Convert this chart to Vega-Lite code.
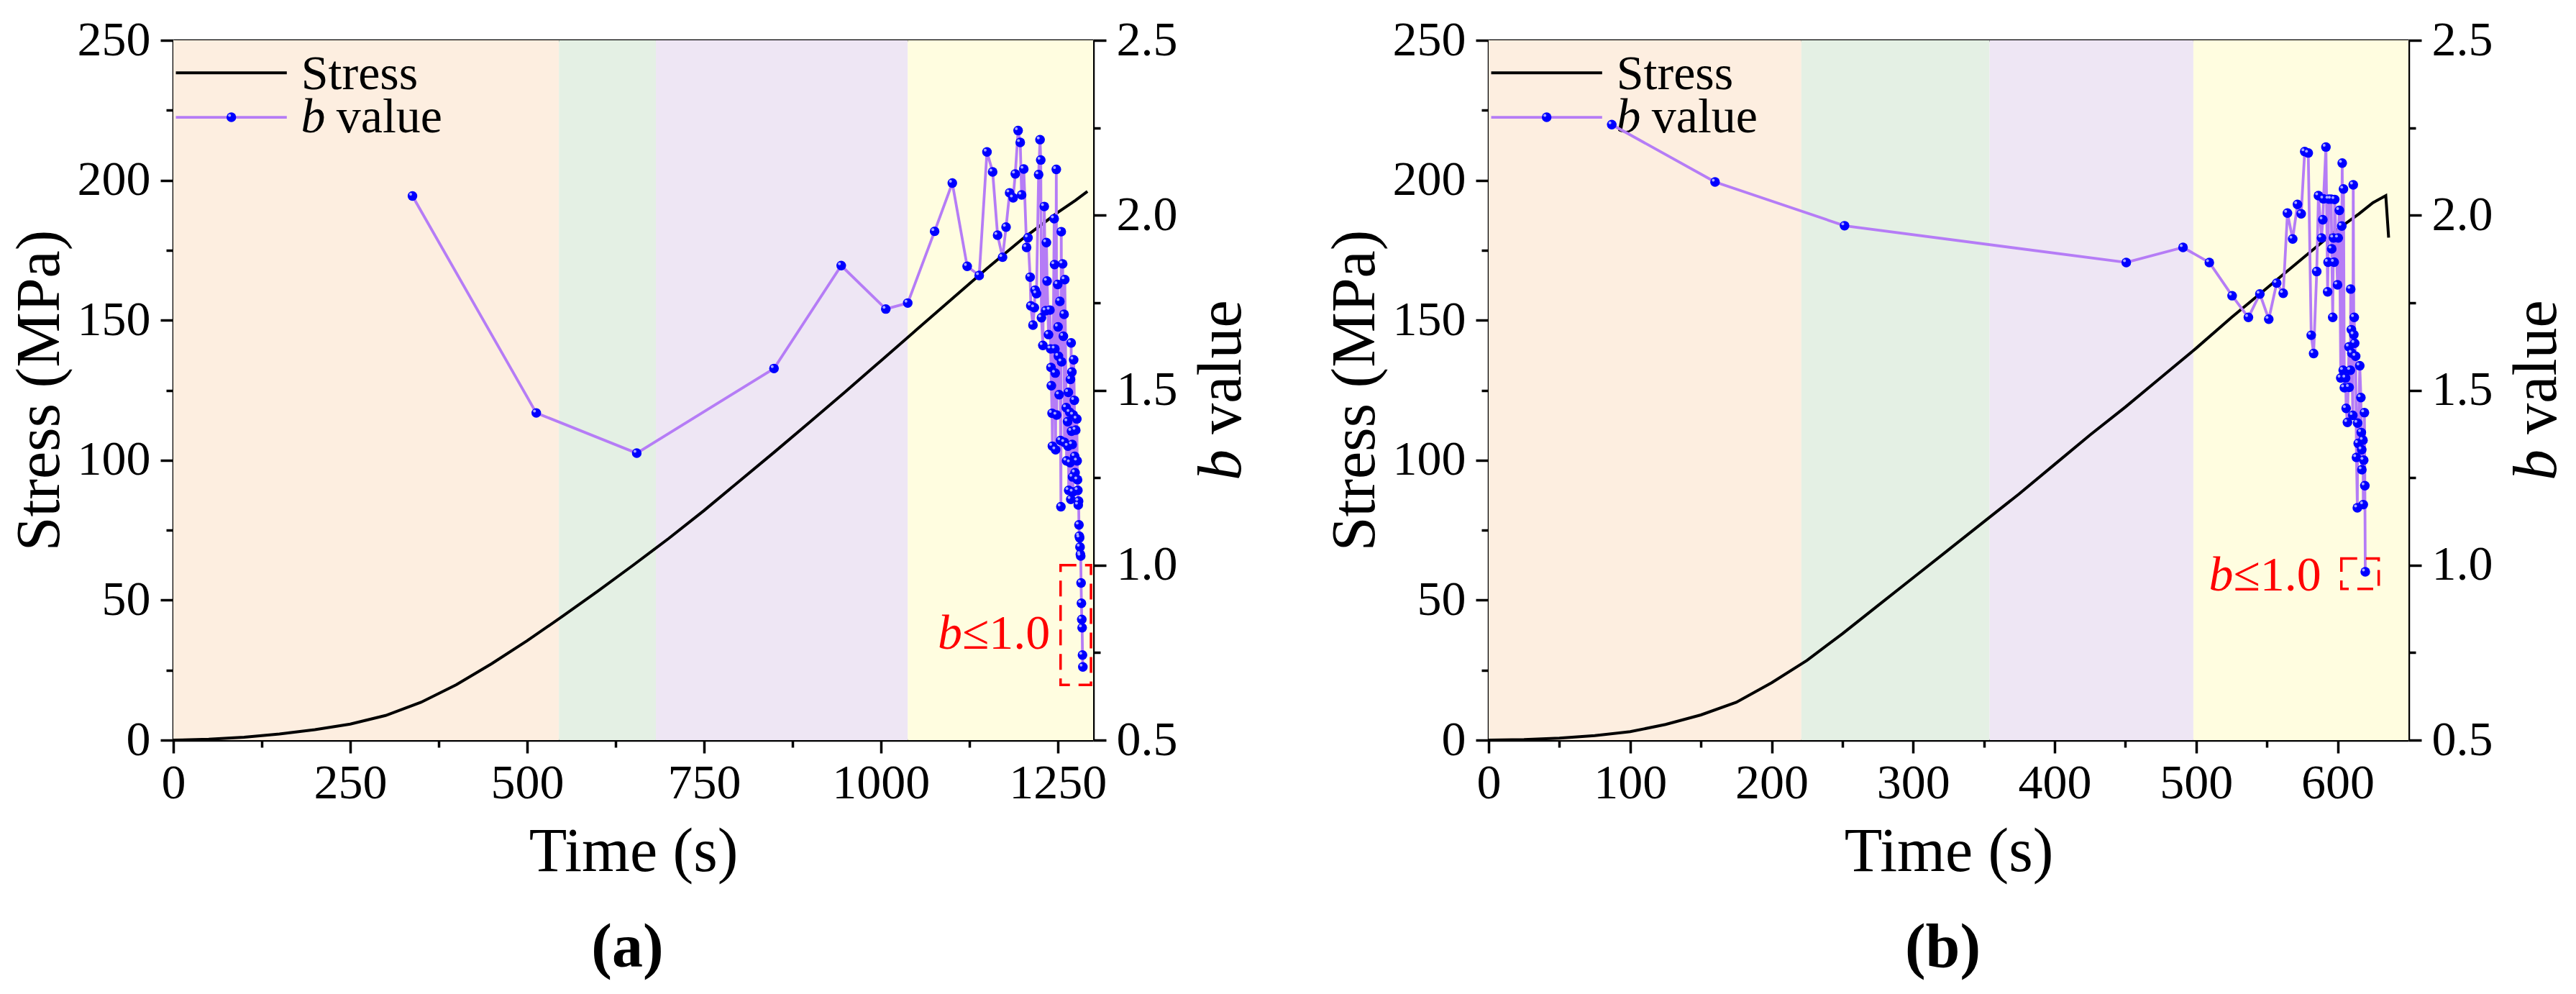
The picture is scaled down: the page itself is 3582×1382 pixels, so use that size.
{
  "$schema": "https://vega.github.io/schema/vega-lite/v6.json",
  "padding": {"left": 12, "top": 22, "right": 10, "bottom": 10},
  "background": "white",
  "spacing": 100,
  "config": {
    "font": "Liberation Serif",
    "view": {"stroke": null},
    "axis": {
      "labelFont": "Liberation Serif", "titleFont": "Liberation Serif",
      "labelFontSize": 68, "titleFontSize": 86, "titleFontWeight": "normal",
      "labelColor": "black", "titleColor": "black", "domainColor": "black", "tickColor": "black",
      "domainWidth": 3.5, "tickWidth": 3.5, "grid": false,
      "labelFlush": false, "labelOverlap": false, "labelBound": false, "zindex": 1
    }
  },
  "datasets": {
    "bands_a": [
      {"phase": "p1", "t": 0, "t2": 545},
      {"phase": "p2", "t": 545, "t2": 682},
      {"phase": "p3", "t": 682, "t2": 1038},
      {"phase": "p4", "t": 1038, "t2": 1300}
    ],
    "bands_b": [
      {"phase": "p1", "t": 0, "t2": 221},
      {"phase": "p2", "t": 221, "t2": 354},
      {"phase": "p3", "t": 354, "t2": 498},
      {"phase": "p4", "t": 498, "t2": 650}
    ],
    "stress_a": [
      {"t": 0, "stress": 0}, {"t": 50, "stress": 0.3}, {"t": 100, "stress": 1.0}, {"t": 150, "stress": 2.2},
      {"t": 200, "stress": 3.7}, {"t": 250, "stress": 5.7}, {"t": 300, "stress": 8.8}, {"t": 350, "stress": 13.5},
      {"t": 400, "stress": 19.8}, {"t": 450, "stress": 27.3}, {"t": 500, "stress": 35.5}, {"t": 550, "stress": 44.2},
      {"t": 600, "stress": 53.2}, {"t": 650, "stress": 62.5}, {"t": 700, "stress": 72}, {"t": 750, "stress": 82},
      {"t": 800, "stress": 92.5}, {"t": 850, "stress": 103}, {"t": 900, "stress": 113.7}, {"t": 950, "stress": 124.5},
      {"t": 1000, "stress": 135.5}, {"t": 1050, "stress": 146.5}, {"t": 1100, "stress": 157.5}, {"t": 1150, "stress": 168.5},
      {"t": 1200, "stress": 179}, {"t": 1250, "stress": 188.5}, {"t": 1275, "stress": 192.8}, {"t": 1292, "stress": 196}
    ],
    "stress_b": [
      {"t": 0, "stress": 0}, {"t": 25, "stress": 0.2}, {"t": 50, "stress": 0.7}, {"t": 75, "stress": 1.6},
      {"t": 100, "stress": 3.0}, {"t": 125, "stress": 5.6}, {"t": 150, "stress": 9.0}, {"t": 175, "stress": 13.5},
      {"t": 200, "stress": 20.5}, {"t": 225, "stress": 28.5}, {"t": 250, "stress": 38}, {"t": 275, "stress": 48},
      {"t": 300, "stress": 58}, {"t": 325, "stress": 68}, {"t": 350, "stress": 78}, {"t": 375, "stress": 88},
      {"t": 400, "stress": 98.5}, {"t": 425, "stress": 109}, {"t": 450, "stress": 119}, {"t": 475, "stress": 129.5},
      {"t": 500, "stress": 140}, {"t": 525, "stress": 151}, {"t": 550, "stress": 161.5}, {"t": 575, "stress": 172},
      {"t": 600, "stress": 182.5}, {"t": 615, "stress": 188}, {"t": 625, "stress": 192}, {"t": 634, "stress": 194.5},
      {"t": 636, "stress": 179.5}
    ],
    "bval_a": [
      {"t":338,"b":2.055},{"t":513,"b":1.435},{"t":655,"b":1.32},{"t":849,"b":1.562},{"t":944,"b":1.856},{"t":1007,"b":1.732},{"t":1038,"b":1.749},{"t":1076,"b":1.954},{"t":1101,"b":2.092},{"t":1122,"b":1.854},{"t":1139,"b":1.828},{"t":1150,"b":2.181},{"t":1158,"b":2.124},{"t":1165,"b":1.943},{"t":1172,"b":1.88},{"t":1177,"b":1.966},{"t":1182,"b":2.064},{"t":1187,"b":2.05},{"t":1190,"b":2.118},{"t":1194,"b":2.242},{"t":1197,"b":2.208},{"t":1199,"b":2.058},{"t":1202,"b":2.132},{"t":1206,"b":1.908},{"t":1208,"b":1.936},{"t":1211,"b":1.823},{"t":1212,"b":1.741},{"t":1215,"b":1.686},{"t":1217,"b":1.736},{"t":1218,"b":1.786},{"t":1220,"b":1.776},{"t":1223,"b":2.116},{"t":1225,"b":2.216},{"t":1226,"b":2.158},{"t":1227,"b":1.707},{"t":1229,"b":1.628},{"t":1231,"b":2.025},{"t":1233,"b":1.727},{"t":1234,"b":1.922},{"t":1235,"b":1.812},{"t":1237,"b":1.659},{"t":1239,"b":1.729},{"t":1240,"b":1.618},{"t":1240.5,"b":1.565},{"t":1241,"b":1.513},{"t":1242,"b":1.434},{"t":1242.5,"b":1.34},{"t":1245,"b":1.99},{"t":1245.5,"b":1.859},{"t":1246,"b":1.618},{"t":1246.5,"b":1.549},{"t":1247,"b":1.33},{"t":1248,"b":2.131},{"t":1248.5,"b":1.429},{"t":1250,"b":1.802},{"t":1250.5,"b":1.681},{"t":1251,"b":1.597},{"t":1252,"b":1.487},{"t":1253,"b":1.754},{"t":1254,"b":1.356},{"t":1254.5,"b":1.167},{"t":1255,"b":1.953},{"t":1255.5,"b":1.581},{"t":1257,"b":1.861},{"t":1258,"b":1.654},{"t":1259,"b":1.717},{"t":1259.5,"b":1.351},{"t":1260,"b":1.816},{"t":1262,"b":1.45},{"t":1262.5,"b":1.298},{"t":1264,"b":1.41},{"t":1264.5,"b":1.34},{"t":1265,"b":1.494},{"t":1265.5,"b":1.214},{"t":1267,"b":1.437},{"t":1267.5,"b":1.293},{"t":1268,"b":1.531},{"t":1268.5,"b":1.188},{"t":1269,"b":1.635},{"t":1269.5,"b":1.383},{"t":1270,"b":1.552},{"t":1270.5,"b":1.345},{"t":1271,"b":1.252},{"t":1271.5,"b":1.209},{"t":1272,"b":1.429},{"t":1272.5,"b":1.587},{"t":1273.5,"b":1.471},{"t":1274,"b":1.311},{"t":1274.5,"b":1.264},{"t":1275.5,"b":1.386},{"t":1277,"b":1.418},{"t":1277.5,"b":1.298},{"t":1278,"b":1.244},{"t":1278.5,"b":1.214},{"t":1279,"b":1.172},{"t":1279.5,"b":1.183},{"t":1280,"b":1.115},{"t":1280.5,"b":1.083},{"t":1281,"b":1.078},{"t":1281.5,"b":1.052},{"t":1282,"b":1.031},{"t":1282.5,"b":1.026},{"t":1283,"b":0.949},{"t":1283.5,"b":0.891},{"t":1284,"b":0.845},{"t":1284.5,"b":0.821},{"t":1285,"b":0.743},{"t":1285.5,"b":0.709}
    ],
    "bval_b": [
      {"t":87,"b":2.259},{"t":160,"b":2.095},{"t":251.5,"b":1.97},{"t":450.6,"b":1.865},{"t":490.7,"b":1.908},{"t":509.3,"b":1.865},{"t":525.4,"b":1.77},{"t":536.9,"b":1.708},{"t":545,"b":1.775},{"t":551.3,"b":1.703},{"t":556.9,"b":1.806},{"t":561.5,"b":1.777},{"t":564.5,"b":2.006},{"t":568.2,"b":1.932},{"t":571.6,"b":2.031},{"t":574.2,"b":2.004},{"t":576.7,"b":2.182},{"t":579.2,"b":2.178},{"t":581.3,"b":1.657},{"t":583,"b":1.605},{"t":585.2,"b":1.839},{"t":586.4,"b":2.056},{"t":588.6,"b":1.935},{"t":589.5,"b":1.987},{"t":590,"b":2.047},{"t":591.7,"b":2.195},{"t":592.9,"b":1.781},{"t":593.2,"b":1.866},{"t":593.7,"b":2.046},{"t":595.4,"b":2.046},{"t":595.8,"b":1.904},{"t":596.5,"b":1.708},{"t":597,"b":1.935},{"t":597.5,"b":1.866},{"t":597.9,"b":2.045},{"t":599.9,"b":1.801},{"t":600.4,"b":1.935},{"t":601.2,"b":2.014},{"t":602.2,"b":1.535},{"t":602.9,"b":1.969},{"t":603.2,"b":2.149},{"t":603.9,"b":1.557},{"t":604.1,"b":2.075},{"t":604.7,"b":1.507},{"t":605.6,"b":1.535},{"t":606,"b":1.448},{"t":606.9,"b":1.408},{"t":608,"b":1.624},{"t":608.1,"b":1.508},{"t":609,"b":1.557},{"t":609.2,"b":1.789},{"t":609.7,"b":1.673},{"t":610,"b":1.606},{"t":610.7,"b":1.428},{"t":611,"b":2.087},{"t":611.4,"b":1.659},{"t":611.7,"b":1.708},{"t":612,"b":1.634},{"t":612.7,"b":1.597},{"t":613.3,"b":1.308},{"t":613.9,"b":1.164},{"t":614.1,"b":1.406},{"t":614.5,"b":1.348},{"t":615.6,"b":1.57},{"t":616.4,"b":1.479},{"t":616.7,"b":1.379},{"t":617,"b":1.33},{"t":617.1,"b":1.273},{"t":617.9,"b":1.357},{"t":618.1,"b":1.173},{"t":618.4,"b":1.3},{"t":618.9,"b":1.436},{"t":619.2,"b":1.227},{"t":619.5,"b":0.981}
    ]
  },
  "hconcat": [
    {
      "width": 1279, "height": 973,
      "layer": [
        {
          "data": {"name": "bands_a"},
          "mark": {"type": "rect"},
          "encoding": {
            "x": {"field": "t", "type": "quantitative", "scale": {"domain": [0, 1300], "nice": false, "zero": false},
              "axis": {"orient": "bottom", "values": [0,125,250,375,500,625,750,875,1000,1125,1250], "format": "d",
                "labelExpr": "datum.value % 250 === 0 ? datum.label : ''",
                "tickSize": {"condition": {"test": "datum.value % 250 === 0", "value": 18}, "value": 10},
                "labelPadding": 8, "title": "Time (s)", "titleX": 639.5, "titleY": 181, "titleBaseline": "alphabetic", "titleAlign": "center"}},
            "x2": {"field": "t2"},
            "color": {"field": "phase", "type": "nominal", "scale": {"domain": ["p1","p2","p3","p4"], "range": ["#FDEEE0","#E4F0E4","#EEE6F4","#FFFDE0"]}, "legend": null}
          }
        },
        {
          "encoding": {
            "x": {"field": "t", "type": "quantitative", "scale": {"domain": [0, 1300], "nice": false, "zero": false}, "axis": null},
            "y": {"field": "stress", "type": "quantitative", "scale": {"domain": [0, 250], "nice": false, "zero": false},
              "axis": {"orient": "left", "values": [0,25,50,75,100,125,150,175,200,225,250], "format": "d",
                "labelExpr": "datum.value % 50 === 0 ? datum.label : ''",
                "tickSize": {"condition": {"test": "datum.value % 50 === 0", "value": 18}, "value": 10},
                "labelPadding": 14, "title": "Stress (MPa)", "titleAngle": 270, "titleX": -159.5, "titleY": 486.5, "titleBaseline": "alphabetic", "titleAlign": "center"}}
          },
          "layer": [
            {"data": {"name": "stress_a"}, "mark": {"type": "line", "color": "black", "strokeWidth": 4}},
            {"data": {"values": [{"t": 3.6, "t2": 160.4, "stress": 238.4}]}, "mark": {"type": "rule", "color": "black", "strokeWidth": 4}, "encoding": {"x2": {"field": "t2"}}},
            {"data": {"values": [{"t": 3.6, "t2": 160.4, "stress": 222.5}]}, "mark": {"type": "rule", "color": "#B57CF6", "strokeWidth": 3.8}, "encoding": {"x2": {"field": "t2"}}},
            {"data": {"values": [{"t": 82, "stress": 222.5}]}, "mark": {"type": "point", "filled": true, "size": 180, "color": "#0000FF", "opacity": 1}},
            {"data": {"values": [{"t": 82, "stress": 222.5}]}, "mark": {"type": "point", "filled": true, "size": 16, "color": "#A8A8FF", "opacity": 1, "xOffset": -2.5, "yOffset": -2.5}},
            {"data": {"values": [{"t": 180.7, "stress": 232.5}]}, "mark": {"type": "text", "text": "Stress", "align": "left", "baseline": "alphabetic", "fontSize": 68, "font": "Liberation Serif", "color": "black"}},
            {"data": {"values": [{"t": 180.4, "stress": 217.1}]}, "mark": {"type": "text", "text": "b", "fontStyle": "italic", "align": "left", "baseline": "alphabetic", "fontSize": 68, "font": "Liberation Serif", "color": "black"}},
            {"data": {"values": [{"t": 230.5, "stress": 217.1}]}, "mark": {"type": "text", "text": "value", "align": "left", "baseline": "alphabetic", "fontSize": 68, "font": "Liberation Serif", "color": "black"}}
          ]
        },
        {
          "data": {"name": "bval_a"},
          "encoding": {
            "x": {"field": "t", "type": "quantitative", "scale": {"domain": [0, 1300], "nice": false, "zero": false}, "axis": null},
            "y": {"field": "b", "type": "quantitative", "scale": {"domain": [0.5, 2.5], "nice": false, "zero": false},
              "axis": {"orient": "right", "values": [0.5,0.75,1,1.25,1.5,1.75,2,2.25,2.5],
                "labelExpr": "round(datum.value*100) % 50 === 0 ? format(datum.value, '.1f') : ''",
                "tickSize": {"condition": {"test": "round(datum.value*100) % 50 === 0", "value": 18}, "value": 10},
                "labelPadding": 14, "title": "b", "titleFontStyle": "italic", "titleAngle": 270, "titleX": 204, "titleY": 590, "titleBaseline": "alphabetic", "titleAlign": "center"}}
          },
          "layer": [
            {"mark": {"type": "line", "color": "#B57CF6", "strokeWidth": 3.8}},
            {"mark": {"type": "point", "filled": true, "size": 180, "color": "#0000FF", "opacity": 1}},
            {"mark": {"type": "point", "filled": true, "size": 16, "color": "#A8A8FF", "opacity": 1, "xOffset": -2.5, "yOffset": -2.5}}
          ]
        },
        {
          "encoding": {
            "x": {"field": "t", "type": "quantitative", "scale": {"domain": [0, 1300], "nice": false, "zero": false},
              "axis": {"orient": "top", "ticks": false, "labels": false, "domain": true, "title": null}},
            "y": {"field": "b", "type": "quantitative", "scale": {"domain": [0.5, 2.5], "nice": false, "zero": false},
              "axis": {"orient": "right", "ticks": false, "labels": false, "domain": false, "title": "value", "titleAngle": 270, "titleX": 204, "titleY": 454, "titleBaseline": "alphabetic", "titleAlign": "center"}}
          },
          "layer": [
            {"data": {"values": [{"t": 1115, "b": 0.762}]}, "mark": {"type": "text", "text": "b", "fontStyle": "italic", "align": "right", "baseline": "alphabetic", "fontSize": 68, "font": "Liberation Serif", "color": "#FF0000"}},
            {"data": {"values": [{"t": 1115, "b": 0.762}]}, "mark": {"type": "text", "text": "≤1.0", "align": "left", "baseline": "alphabetic", "fontSize": 68, "font": "Liberation Serif", "color": "#FF0000"}}
          ]
        },
        {
          "data": {"values": [{"t": 1254, "t2": 1297, "b": 0.658, "b2": 1.0}]},
          "mark": {"type": "rect", "fillOpacity": 0, "stroke": "#FF0000", "strokeWidth": 3.5, "strokeDash": [22, 12]},
          "encoding": {
            "x": {"field": "t", "type": "quantitative", "scale": {"domain": [0, 1300], "nice": false, "zero": false},
              "axis": {"orient": "bottom", "ticks": false, "labels": false, "domain": false, "title": "(a)", "titleFontWeight": "bold", "titleX": 631, "titleY": 314, "titleBaseline": "alphabetic", "titleAlign": "center"}},
            "x2": {"field": "t2"},
            "y": {"field": "b", "type": "quantitative", "scale": {"domain": [0.5, 2.5], "nice": false, "zero": false}, "axis": null},
            "y2": {"field": "b2"}
          }
        }
      ],
      "resolve": {"scale": {"x": "independent", "y": "independent"}}
    },
    {
      "width": 1279, "height": 973,
      "layer": [
        {
          "data": {"name": "bands_b"},
          "mark": {"type": "rect"},
          "encoding": {
            "x": {"field": "t", "type": "quantitative", "scale": {"domain": [0, 650], "nice": false, "zero": false},
              "axis": {"orient": "bottom", "values": [0,50,100,150,200,250,300,350,400,450,500,550,600], "format": "d",
                "labelExpr": "datum.value % 100 === 0 ? datum.label : ''",
                "tickSize": {"condition": {"test": "datum.value % 100 === 0", "value": 18}, "value": 10},
                "labelPadding": 8, "title": "Time (s)", "titleX": 639.5, "titleY": 181, "titleBaseline": "alphabetic", "titleAlign": "center"}},
            "x2": {"field": "t2"},
            "color": {"field": "phase", "type": "nominal", "scale": {"domain": ["p1","p2","p3","p4"], "range": ["#FDEEE0","#E4F0E4","#EEE6F4","#FFFDE0"]}, "legend": null}
          }
        },
        {
          "encoding": {
            "x": {"field": "t", "type": "quantitative", "scale": {"domain": [0, 650], "nice": false, "zero": false}, "axis": null},
            "y": {"field": "stress", "type": "quantitative", "scale": {"domain": [0, 250], "nice": false, "zero": false},
              "axis": {"orient": "left", "values": [0,25,50,75,100,125,150,175,200,225,250], "format": "d",
                "labelExpr": "datum.value % 50 === 0 ? datum.label : ''",
                "tickSize": {"condition": {"test": "datum.value % 50 === 0", "value": 18}, "value": 10},
                "labelPadding": 14, "title": "Stress (MPa)", "titleAngle": 270, "titleX": -159.5, "titleY": 486.5, "titleBaseline": "alphabetic", "titleAlign": "center"}}
          },
          "layer": [
            {"data": {"name": "stress_b"}, "mark": {"type": "line", "color": "black", "strokeWidth": 4}},
            {"data": {"values": [{"t": 1.8, "t2": 80.2, "stress": 238.4}]}, "mark": {"type": "rule", "color": "black", "strokeWidth": 4}, "encoding": {"x2": {"field": "t2"}}},
            {"data": {"values": [{"t": 1.8, "t2": 80.2, "stress": 222.5}]}, "mark": {"type": "rule", "color": "#B57CF6", "strokeWidth": 3.8}, "encoding": {"x2": {"field": "t2"}}},
            {"data": {"values": [{"t": 41, "stress": 222.5}]}, "mark": {"type": "point", "filled": true, "size": 180, "color": "#0000FF", "opacity": 1}},
            {"data": {"values": [{"t": 41, "stress": 222.5}]}, "mark": {"type": "point", "filled": true, "size": 16, "color": "#A8A8FF", "opacity": 1, "xOffset": -2.5, "yOffset": -2.5}},
            {"data": {"values": [{"t": 90.35, "stress": 232.5}]}, "mark": {"type": "text", "text": "Stress", "align": "left", "baseline": "alphabetic", "fontSize": 68, "font": "Liberation Serif", "color": "black"}},
            {"data": {"values": [{"t": 90.2, "stress": 217.1}]}, "mark": {"type": "text", "text": "b", "fontStyle": "italic", "align": "left", "baseline": "alphabetic", "fontSize": 68, "font": "Liberation Serif", "color": "black"}},
            {"data": {"values": [{"t": 115.25, "stress": 217.1}]}, "mark": {"type": "text", "text": "value", "align": "left", "baseline": "alphabetic", "fontSize": 68, "font": "Liberation Serif", "color": "black"}}
          ]
        },
        {
          "data": {"name": "bval_b"},
          "encoding": {
            "x": {"field": "t", "type": "quantitative", "scale": {"domain": [0, 650], "nice": false, "zero": false}, "axis": null},
            "y": {"field": "b", "type": "quantitative", "scale": {"domain": [0.5, 2.5], "nice": false, "zero": false},
              "axis": {"orient": "right", "values": [0.5,0.75,1,1.25,1.5,1.75,2,2.25,2.5],
                "labelExpr": "round(datum.value*100) % 50 === 0 ? format(datum.value, '.1f') : ''",
                "tickSize": {"condition": {"test": "round(datum.value*100) % 50 === 0", "value": 18}, "value": 10},
                "labelPadding": 14, "title": "b", "titleFontStyle": "italic", "titleAngle": 270, "titleX": 204, "titleY": 590, "titleBaseline": "alphabetic", "titleAlign": "center"}}
          },
          "layer": [
            {"mark": {"type": "line", "color": "#B57CF6", "strokeWidth": 3.8}},
            {"mark": {"type": "point", "filled": true, "size": 180, "color": "#0000FF", "opacity": 1}},
            {"mark": {"type": "point", "filled": true, "size": 16, "color": "#A8A8FF", "opacity": 1, "xOffset": -2.5, "yOffset": -2.5}}
          ]
        },
        {
          "encoding": {
            "x": {"field": "t", "type": "quantitative", "scale": {"domain": [0, 650], "nice": false, "zero": false},
              "axis": {"orient": "top", "ticks": false, "labels": false, "domain": true, "title": null}},
            "y": {"field": "b", "type": "quantitative", "scale": {"domain": [0.5, 2.5], "nice": false, "zero": false},
              "axis": {"orient": "right", "ticks": false, "labels": false, "domain": false, "title": "value", "titleAngle": 270, "titleX": 204, "titleY": 454, "titleBaseline": "alphabetic", "titleAlign": "center"}}
          },
          "layer": [
            {"data": {"values": [{"t": 526.2, "b": 0.928}]}, "mark": {"type": "text", "text": "b", "fontStyle": "italic", "align": "right", "baseline": "alphabetic", "fontSize": 68, "font": "Liberation Serif", "color": "#FF0000"}},
            {"data": {"values": [{"t": 526.2, "b": 0.928}]}, "mark": {"type": "text", "text": "≤1.0", "align": "left", "baseline": "alphabetic", "fontSize": 68, "font": "Liberation Serif", "color": "#FF0000"}}
          ]
        },
        {
          "data": {"values": [{"t": 602.6, "t2": 629, "b": 0.932, "b2": 1.019}]},
          "mark": {"type": "rect", "fillOpacity": 0, "stroke": "#FF0000", "strokeWidth": 3.5, "strokeDash": [22, 12]},
          "encoding": {
            "x": {"field": "t", "type": "quantitative", "scale": {"domain": [0, 650], "nice": false, "zero": false},
              "axis": {"orient": "bottom", "ticks": false, "labels": false, "domain": false, "title": "(b)", "titleFontWeight": "bold", "titleX": 631, "titleY": 314, "titleBaseline": "alphabetic", "titleAlign": "center"}},
            "x2": {"field": "t2"},
            "y": {"field": "b", "type": "quantitative", "scale": {"domain": [0.5, 2.5], "nice": false, "zero": false}, "axis": null},
            "y2": {"field": "b2"}
          }
        }
      ],
      "resolve": {"scale": {"x": "independent", "y": "independent"}}
    }
  ]
}
